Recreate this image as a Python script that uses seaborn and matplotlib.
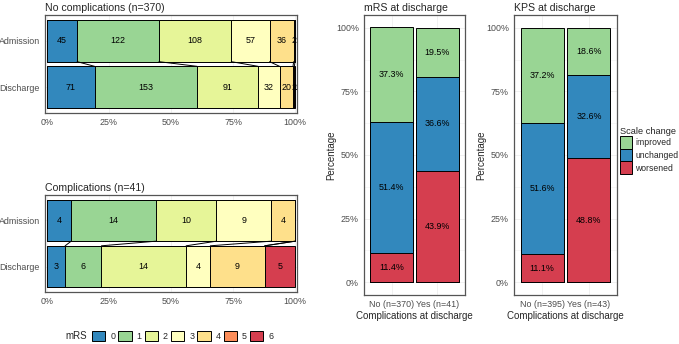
import numpy as np
import pandas as pd
import matplotlib
matplotlib.use("Agg")
import matplotlib.pyplot as plt
from matplotlib.patches import Patch
import seaborn as sns

# mRS counts (scores 0..6) per stage
mrs_scores = ["0", "1", "2", "3", "4", "5", "6"]
stages = ["Admission", "Discharge"]
nocomp_admission = [45, 122, 108, 57, 36, 2, 0]
nocomp_discharge = [71, 153, 91, 32, 20, 2, 1]
comp_admission = [4, 14, 10, 9, 4, 0, 0]
comp_discharge = [3, 6, 14, 4, 9, 0, 5]

# scale change at discharge, percent per group
change_levels = ["worsened", "unchanged", "improved"]
mrs_groups = ["No (n=370)", "Yes (n=41)"]
mrs_worsened = [11.4, 43.9]
mrs_unchanged = [51.4, 36.6]
mrs_improved = [37.3, 19.5]
kps_groups = ["No (n=395)", "Yes (n=43)"]
kps_worsened = [11.1, 48.8]
kps_unchanged = [51.6, 32.6]
kps_improved = [37.2, 18.6]

mrs_colors = ["#3288BD", "#99D594", "#E6F598", "#FFFFBF", "#FEE08B", "#FC8D59", "#D53E4F"]
change_colors = {"improved": "#99D594", "unchanged": "#3288BD", "worsened": "#D53E4F"}

sns.set_style("white")
plt.rcParams["font.family"] = ["Liberation Sans", "DejaVu Sans"]

TICK_FS = 6.4
LAB_FS = 7.0
TITLE_FS = 7.6
BAR_FS = 6.4
BORDER = "#555555"
GRID = "#EBEBEB"


def style_axes(ax):
    for s in ax.spines.values():
        s.set_visible(True)
        s.set_color(BORDER)
        s.set_linewidth(0.9)
    ax.tick_params(axis="both", length=2.5, width=0.6, color="#333333",
                   labelsize=TICK_FS, labelcolor="#4D4D4D", pad=1.2)
    ax.set_axisbelow(True)


def mrs_panel(ax, adm, dis, title):
    counts = pd.DataFrame({"Admission": adm, "Discharge": dis}, index=mrs_scores)
    pct = counts / counts.sum() * 100
    cum = pct.cumsum()
    # overlay cumulative bars, widest first
    for k in reversed(range(len(mrs_scores))):
        d = pd.DataFrame({"stage": stages, "cum": cum.iloc[k].values})
        sns.barplot(data=d, x="cum", y="stage", order=stages, color=mrs_colors[k],
                    saturation=1, edgecolor="black", linewidth=0.7, width=0.9,
                    errorbar=None, ax=ax)
    # flow lines between admission and discharge bars
    for k in range(len(mrs_scores) - 1):
        ax.plot([cum["Admission"].iloc[k], cum["Discharge"].iloc[k]], [0.45, 0.55],
                color="black", lw=0.7, zorder=3)
    for i, st in enumerate(stages):
        for k in range(len(mrs_scores)):
            n = counts[st].iloc[k]
            if n > 0:
                ax.text(cum[st].iloc[k] - pct[st].iloc[k] / 2, i, str(n), fontsize=BAR_FS,
                        ha="center", va="center", color="black", clip_on=True, zorder=4)
    ax.set_xlim(-0.8, 100.8)
    ax.set_ylim(1.55, -0.55)
    ax.set_xticks([0, 25, 50, 75, 100])
    ax.set_xticklabels(["0%", "25%", "50%", "75%", "100%"])
    ax.set_xlabel("")
    ax.set_ylabel("")
    ax.grid(True, color=GRID, lw=0.5)
    style_axes(ax)
    ax.set_title(title, loc="left", fontsize=TITLE_FS, pad=3)


def change_panel(ax, groups, worse, unch, impr, title):
    pct = pd.DataFrame([worse, unch, impr], index=change_levels, columns=groups)
    cum = pct.cumsum()
    for k in reversed(range(len(change_levels))):
        lev = change_levels[k]
        d = pd.DataFrame({"group": groups, "cum": cum.loc[lev].values})
        sns.barplot(data=d, x="group", y="cum", order=groups, color=change_colors[lev],
                    saturation=1, edgecolor="black", linewidth=0.7, width=0.92,
                    errorbar=None, ax=ax)
    for i, g in enumerate(groups):
        for lev in change_levels:
            ax.text(i, cum.loc[lev, g] - pct.loc[lev, g] / 2, f"{pct.loc[lev, g]:.1f}%",
                    fontsize=BAR_FS, ha="center", va="center", color="black", zorder=4)
    ax.set_xlim(-0.6, 1.6)
    ax.set_ylim(-5, 105)
    ax.set_yticks([0, 25, 50, 75, 100])
    ax.set_yticks([12.5, 37.5, 62.5, 87.5], minor=True)
    ax.set_yticklabels(["0%", "25%", "50%", "75%", "100%"])
    ax.grid(True, which="major", color=GRID, lw=0.5)
    ax.grid(True, which="minor", axis="y", color="#F2F2F2", lw=0.4)
    ax.tick_params(which="minor", length=0)
    ax.set_xlabel("Complications at discharge", fontsize=LAB_FS, labelpad=1)
    ax.set_ylabel("Percentage", fontsize=LAB_FS, labelpad=0)
    style_axes(ax)
    ax.set_title(title, loc="left", fontsize=TITLE_FS, pad=3)


W, H = 679, 344
fig = plt.figure(figsize=(W / 100, H / 100), dpi=100)

ax1 = fig.add_axes([45 / W, 1 - 113 / H, 252 / W, 98 / H])
ax2 = fig.add_axes([45 / W, 1 - 292 / H, 252 / W, 97 / H])
ax3 = fig.add_axes([364 / W, 1 - 295 / H, 101 / W, 280 / H])
ax4 = fig.add_axes([514 / W, 1 - 295 / H, 103 / W, 280 / H])

mrs_panel(ax1, nocomp_admission, nocomp_discharge, "No complications (n=370)")
mrs_panel(ax2, comp_admission, comp_discharge, "Complications (n=41)")
change_panel(ax3, mrs_groups, mrs_worsened, mrs_unchanged, mrs_improved, "mRS at discharge")
change_panel(ax4, kps_groups, kps_worsened, kps_unchanged, kps_improved, "KPS at discharge")

# mRS legend at the bottom
mrs_handles = [Patch(facecolor=c, edgecolor="black", lw=0.7) for c in mrs_colors]
fig.text(65 / W, 1 - 336 / H, "mRS", fontsize=LAB_FS, va="center", ha="left")
fig.legend(mrs_handles, mrs_scores, loc="center left", bbox_to_anchor=(92 / W, 1 - 336 / H),
           ncol=7, frameon=False, fontsize=TICK_FS, handlelength=1.5, handleheight=1.5,
           handletextpad=0.55, columnspacing=0.35, borderpad=0, borderaxespad=0)

# scale change legend on the right
ch_order = ["improved", "unchanged", "worsened"]
ch_handles = [Patch(facecolor=change_colors[l], edgecolor="black", lw=0.7) for l in ch_order]
leg = fig.legend(ch_handles, ch_order, loc="upper left", bbox_to_anchor=(620 / W, 1 - 127 / H),
                 title="Scale change", title_fontsize=6.7, fontsize=6.2, frameon=False,
                 handlelength=1.45, handleheight=1.9, handletextpad=0.35, labelspacing=0.0,
                 borderpad=0, borderaxespad=0, alignment="left")

fig.savefig("out.png", dpi=100)
